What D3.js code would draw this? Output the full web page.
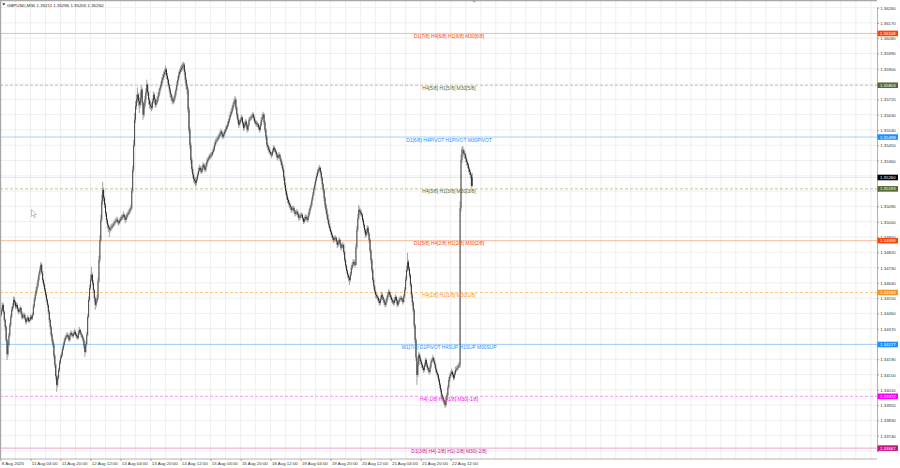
<!DOCTYPE html>
<html><head><meta charset="utf-8">
<script src="https://cdn.jsdelivr.net/npm/d3@7"></script>
<style>body{margin:0;background:#fff}svg{display:block;font-family:"Liberation Sans",Arial,sans-serif}</style>
</head><body><svg id="c" width="900" height="468"></svg>
<script>
// ---- data (prices in points: value = 1 + v/100000) ----
const symbol = "GBPUSD,M30";
const lastOHLC = ["1.35211", "1.35286", "1.35205", "1.35260"];
const firstOpen = 34440;
const closes = [
34451,34480,34510,34470,34422,34380,34304,34220,34275,34330,
34392,34440,34481,34500,34540,34525,34500,34510,34485,34469,
34480,34492,34460,34434,34445,34451,34430,34410,34425,34434,
34415,34422,34440,34430,34451,34500,34540,34570,34598,34620,
34657,34690,34716,34746,34700,34657,34630,34600,34569,34540,
34510,34470,34422,34380,34333,34300,34275,34210,34157,34090,
34039,34080,34127,34170,34200,34216,34250,34275,34300,34316,
34325,34333,34320,34304,34330,34345,34335,34328,34340,34351,
34335,34325,34316,34345,34363,34345,34333,34320,34304,34270,
34233,34280,34333,34440,34540,34610,34660,34687,34640,34598,
34550,34510,34530,34551,34650,34775,34890,35011,35120,35187,
35140,35099,35050,35010,34981,34965,34952,34960,34964,34975,
34981,34990,34999,35005,35011,35000,34993,35005,35015,35023,
35030,35040,35025,35011,35028,35040,35050,35058,35070,35081,
35180,35305,35450,35600,35680,35720,35747,35710,35688,35730,
35777,35700,35630,35680,35718,35760,35806,35760,35718,35690,
35680,35671,35710,35747,35720,35688,35700,35718,35740,35765,
35785,35806,35830,35848,35865,35880,35895,35860,35836,35805,
35777,35750,35730,35715,35706,35725,35747,35775,35806,35835,
35865,35880,35895,35906,35915,35924,35880,35836,35800,35777,
35660,35541,35450,35364,35310,35276,35250,35240,35229,35250,
35276,35300,35317,35305,35294,35315,35335,35320,35305,35330,
35352,35365,35376,35385,35390,35394,35410,35423,35450,35470,
35476,35482,35495,35506,35518,35530,35515,35500,35515,35530,
35541,35555,35571,35590,35612,35630,35647,35668,35688,35705,
35718,35670,35630,35600,35571,35585,35600,35612,35580,35553,
35570,35589,35565,35541,35570,35600,35606,35612,35620,35630,
35610,35589,35580,35575,35571,35555,35541,35570,35600,35615,
35630,35585,35541,35500,35453,35440,35423,35410,35400,35394,
35415,35435,35425,35412,35395,35376,35385,35394,35370,35352,
35330,35305,35260,35217,35180,35150,35128,35110,35099,35085,
35069,35075,35081,35062,35046,35052,35058,35040,35023,35030,
35035,35040,35020,34999,35015,35028,35020,35011,35035,35058,
35080,35099,35130,35158,35190,35217,35245,35270,35293,35305,
35317,35290,35258,35220,35187,35140,35099,35070,35040,35010,
34981,34960,34940,34922,34905,34893,34900,34905,34885,34863,
34878,34893,34870,34846,34855,34863,34820,34775,34740,34710,
34687,34670,34657,34690,34728,34745,34763,34755,34746,34850,
34952,35020,35069,35060,35050,35040,35010,34981,34950,34922,
34940,34964,34930,34893,34830,34775,34715,34657,34620,34590,
34569,34560,34551,34535,34522,34545,34569,34555,34540,34525,
34510,34530,34551,34570,34587,34570,34555,34540,34530,34522,
34540,34557,34535,34510,34525,34540,34545,34551,34540,34528,
34560,34598,34660,34716,34763,34725,34687,34630,34569,34525,
34481,34390,34304,34200,34098,34160,34216,34195,34175,34157,
34140,34127,34155,34186,34160,34139,34128,34116,34145,34174,
34186,34198,34178,34157,34130,34110,34098,34070,34039,34010,
33980,33965,33950,33935,33921,33950,33980,34025,34068,34090,
34105,34116,34098,34080,34105,34127,34133,34139,34148,34157,
35080,35364,35423,35420,35400,35394,35370,35350,35335,35310,
35293,35275,35211,35260];
const highs = [
34470,34495,34525,34520,34480,34430,34390,34310,34290,34345,
34405,34455,34500,34520,34560,34555,34535,34525,34520,34495,
34490,34505,34500,34470,34455,34465,34460,34440,34435,34450,
34440,34435,34455,34450,34465,34515,34555,34590,34615,34640,
34675,34705,34735,34763,34755,34710,34665,34640,34610,34580,
34550,34520,34480,34430,34390,34345,34310,34285,34220,34165,
34100,34095,34140,34185,34215,34235,34265,34290,34315,34330,
34340,34350,34345,34330,34345,34360,34355,34345,34355,34370,
34360,34345,34335,34360,34380,34370,34355,34340,34330,34310,
34280,34295,34350,34455,34560,34630,34690,34734,34700,34655,
34605,34560,34545,34570,34670,34800,34920,35040,35160,35234,
35200,35150,35110,35060,35020,34990,34975,34975,34985,34990,
34995,35005,35015,35020,35030,35025,35010,35020,35030,35040,
35045,35060,35050,35035,35045,35055,35065,35075,35085,35100,
35200,35330,35480,35640,35710,35750,35790,35760,35725,35760,
35800,35790,35710,35700,35740,35785,35836,35815,35770,35730,
35710,35700,35725,35765,35760,35730,35720,35735,35760,35785,
35800,35825,35850,35870,35885,35900,35918,35905,35875,35845,
35815,35790,35760,35745,35730,35740,35765,35790,35825,35855,
35885,35900,35915,35925,35935,35942,35935,35895,35850,35815,
35790,35675,35555,35465,35380,35325,35290,35265,35260,35265,
35290,35318,35335,35330,35320,35330,35350,35345,35330,35345,
35370,35380,35390,35400,35405,35410,35425,35440,35465,35485,
35492,35500,35510,35520,35535,35548,35540,35525,35530,35545,
35560,35570,35590,35605,35630,35650,35665,35685,35705,35725,
35741,35730,35680,35640,35610,35600,35615,35630,35620,35590,
35585,35605,35600,35575,35585,35615,35620,35628,35635,35647,
35640,35620,35600,35595,35590,35580,35565,35585,35615,35635,
35647,35640,35595,35550,35510,35465,35450,35435,35420,35410,
35430,35450,35445,35435,35420,35405,35400,35410,35400,35380,
35360,35340,35315,35270,35230,35190,35165,35140,35125,35110,
35095,35090,35095,35090,35070,35068,35075,35065,35050,35045,
35050,35055,35048,35025,35030,35045,35040,35030,35050,35075,
35095,35115,35145,35175,35205,35235,35260,35285,35310,35322,
35335,35325,35300,35265,35230,35195,35150,35110,35080,35050,
35020,34990,34970,34950,34930,34915,34915,34920,34912,34890,
34895,34910,34900,34878,34870,34880,34870,34830,34785,34750,
34720,34695,34680,34705,34745,34760,34780,34775,34770,34870,
34975,35045,35099,35085,35075,35065,35050,35020,34990,34960,
34955,34980,34975,34940,34900,34840,34785,34725,34670,34630,
34600,34580,34572,34560,34545,34560,34585,34580,34565,34550,
34535,34545,34565,34585,34605,34595,34580,34565,34550,34540,
34555,34572,34565,34545,34540,34555,34560,34565,34560,34550,
34575,34615,34680,34740,34816,34775,34735,34695,34640,34580,
34535,34490,34400,34315,34210,34175,34235,34225,34205,34185,
34165,34150,34170,34200,34195,34170,34150,34140,34160,34190,
34200,34216,34205,34185,34165,34140,34120,34105,34080,34050,
34020,33990,33975,33960,33945,33965,33995,34040,34085,34105,
34120,34135,34125,34110,34120,34145,34150,34155,34165,34175,
35120,35395,35441,35445,35430,35415,35405,35380,35360,35345,
35320,35305,35285,35286];
const lows = [
34425,34440,34470,34460,34410,34360,34290,34186,34205,34265,
34320,34380,34430,34470,34490,34510,34485,34490,34475,34455,
34460,34470,34450,34425,34425,34435,34420,34395,34400,34415,
34405,34405,34415,34420,34420,34445,34490,34530,34560,34585,
34610,34645,34680,34705,34690,34640,34615,34585,34555,34525,
34495,34455,34405,34365,34320,34285,34260,34195,34140,34070,
33998,34025,34070,34115,34160,34190,34205,34240,34265,34290,
34305,34315,34310,34292,34295,34320,34325,34315,34320,34332,
34325,34312,34305,34308,34335,34335,34320,34310,34290,34255,
34204,34225,34270,34325,34430,34530,34600,34650,34625,34580,
34530,34481,34495,34520,34540,34640,34760,34880,35000,35100,
35120,35080,35030,34990,34960,34940,34910,34935,34945,34955,
34965,34970,34980,34990,34995,34985,34975,34985,34995,35005,
35010,35020,35010,34990,35000,35015,35030,35040,35045,35060,
35070,35170,35290,35440,35580,35660,35700,35680,35640,35670,
35715,35680,35600,35615,35665,35700,35745,35740,35690,35665,
35660,35650,35660,35695,35700,35670,35675,35690,35705,35730,
35750,35775,35795,35815,35835,35850,35865,35840,35815,35790,
35760,35730,35710,35695,35690,35695,35715,35735,35765,35795,
35825,35850,35870,35880,35890,35895,35860,35815,35780,35750,
35640,35520,35430,35340,35290,35255,35230,35220,35205,35215,
35240,35265,35290,35290,35280,35285,35305,35305,35290,35295,
35320,35340,35355,35365,35370,35375,35385,35400,35415,35440,
35455,35465,35475,35485,35495,35505,35500,35485,35490,35505,
35520,35530,35545,35560,35580,35600,35620,35635,35655,35675,
35690,35655,35610,35580,35550,35560,35575,35590,35565,35535,
35540,35560,35550,35525,35530,35560,35590,35595,35600,35610,
35595,35575,35565,35560,35555,35540,35525,35530,35560,35590,
35605,35570,35525,35480,35435,35420,35405,35395,35385,35375,
35385,35405,35410,35400,35380,35360,35365,35375,35355,35335,
35315,35290,35240,35195,35160,35130,35110,35095,35080,35070,
35050,35058,35062,35045,35030,35035,35040,35025,35005,35010,
35018,35022,35005,34985,34990,35005,35005,34995,35000,35025,
35045,35070,35090,35120,35150,35180,35205,35235,35260,35280,
35295,35275,35240,35200,35170,35120,35080,35050,35020,34990,
34965,34945,34925,34905,34890,34875,34880,34888,34870,34845,
34850,34865,34855,34830,34835,34845,34805,34760,34725,34695,
34670,34650,34628,34645,34680,34715,34735,34740,34730,34740,
34840,34940,35010,35040,35035,35025,34995,34965,34935,34905,
34910,34930,34915,34875,34815,34755,34700,34640,34600,34575,
34550,34545,34535,34520,34505,34510,34535,34540,34525,34510,
34495,34500,34520,34540,34560,34555,34540,34525,34515,34505,
34510,34530,34520,34495,34500,34515,34530,34535,34525,34512,
34520,34550,34590,34650,34705,34710,34670,34615,34550,34505,
34465,34370,34285,34180,34039,34085,34150,34180,34160,34140,
34125,34110,34115,34145,34145,34125,34112,34100,34105,34135,
34165,34178,34165,34140,34115,34095,34080,34055,34020,33995,
33962,33948,33932,33918,33903,33910,33940,33970,34015,34055,
34080,34095,34085,34065,34070,34095,34115,34120,34128,34140,
34140,35060,35345,35395,35380,35370,35350,35330,35315,35290,
35275,35255,35200,35205];

const priceTicks = [1.36260,1.36170,1.36080,1.35990,1.35900,1.35810,1.35720,1.35630,1.35540,1.35450,
  1.35360,1.35270,1.35180,1.35090,1.35000,1.34910,1.34820,1.34730,1.34640,1.34550,
  1.34460,1.34370,1.34280,1.34190,1.34100,1.34010,1.33920,1.33830,1.33740,1.33650];
const timeTickIndex = [0,32,64,96,128,160,192,224,256,288,320,352,384,416,448,480];
const timeTickLabels = ["8 Aug 2025","11 Aug 04:00","11 Aug 20:00","12 Aug 12:00","13 Aug 04:00",
  "13 Aug 20:00","14 Aug 12:00","15 Aug 04:00","15 Aug 20:00","18 Aug 12:00","19 Aug 04:00",
  "19 Aug 20:00","20 Aug 12:00","21 Aug 04:00","21 Aug 20:00","22 Aug 12:00"];

const levelPrices = [1.36108,1.35803,1.35498,1.35193,1.34888,1.34583,1.34277,1.33972,1.33667];
const levelTexts = ["D1[7/8] H4[6/8] H1[6/8] M30[6/8]","H4[5/8] H1[5/8] M30[5/8]",
  "D1[6/8] H4PIVOT H1PIVOT M30PIVOT","H4[3/8] H1[3/8] M30[3/8]",
  "D1[5/8] H4[2/8] H1[2/8] M30[2/8]","H4[1/8] H1[1/8] M30[1/8]",
  "W1[7/8] D1PIVOT H4SUP H1SUP M30SUP","H4[-1/8] H1[-1/8] M30[-1/8]",
  "D1[3/8] H4[-2/8] H1[-2/8] M30[-2/8]"];
const levelColors = ["#FF4500","#556B2F","#1E90FF","#556B2F","#FF4500","#F7931E","#1E90FF","#FF00FF","#C71585"];
const levelLineColors = ["#fbb89c","#c9c0a2","#a3d2fb","#c9c0a2","#fbb89c","#fcc87a","#a3d2fb","#f79af7","#eea4cc"];
const levelDashed = [false,true,false,true,false,true,false,true,false];
const currentPrice = 1.35260;

// ---- chart ----
const W = 900, H = 468, plotR = 877, plotB = 459;
const svg = d3.select("#c");
const P = v => 1 + v / 100000;
const x = d3.scaleLinear().domain([-0.5, 934.5]).range([0, plotR]);
const y = d3.scaleLinear().domain([1.33650, 1.36260]).range([451.0, 7.6]);

svg.append("rect").attr("width", W).attr("height", H).attr("fill", "#fff");
svg.append("defs").append("clipPath").attr("id", "clip")
  .append("rect").attr("x", 0).attr("y", 0).attr("width", plotR).attr("height", plotB);

const grid = svg.append("g").attr("stroke", "#ebebeb").attr("stroke-width", 0.8);
grid.selectAll("line.h").data(priceTicks).join("line")
  .attr("x1", 0).attr("x2", plotR).attr("y1", d => y(d)).attr("y2", d => y(d));
grid.selectAll("line.v").data(d3.range(0, 935, 16)).join("line")
  .attr("y1", 0).attr("y2", plotB).attr("x1", d => x(d)).attr("x2", d => x(d));

// levels
const lv = levelPrices.map((p, k) => ({p, t: levelTexts[k], c: levelColors[k], lc: levelLineColors[k], dash: levelDashed[k]}));
svg.append("g").selectAll("line").data(lv).join("line")
  .attr("x1", 0).attr("x2", plotR).attr("y1", d => y(d.p)).attr("y2", d => y(d.p))
  .attr("stroke", d => d.lc).attr("stroke-width", 1)
  .attr("stroke-dasharray", d => d.dash ? "3,2" : null);
// current price line
svg.append("line").attr("x1", 0).attr("x2", plotR).attr("y1", y(currentPrice)).attr("y2", y(currentPrice))
  .attr("stroke", "#e2e2e2").attr("stroke-width", 0.8);

// candles
const bars = closes.map((c, i) => ({i, o: i ? closes[i - 1] : firstOpen, h: highs[i], l: lows[i], c}));
const cg = svg.append("g").attr("clip-path", "url(#clip)");
cg.selectAll("line").data(bars).join("line")
  .attr("x1", d => x(d.i)).attr("x2", d => x(d.i))
  .attr("y1", d => y(P(d.h))).attr("y2", d => y(P(d.l)))
  .attr("stroke", "#7a7a7a").attr("stroke-width", 0.7);
cg.selectAll("rect").data(bars).join("rect")
  .attr("x", d => x(d.i) - 0.4).attr("width", 0.8)
  .attr("y", d => y(P(Math.max(d.o, d.c))))
  .attr("height", d => Math.max(0.4, Math.abs(y(P(d.o)) - y(P(d.c)))))
  .attr("fill", d => d.c >= d.o ? "#3a3a3a" : "#111");

// level texts in chart
svg.append("g").selectAll("text").data(lv).join("text")
  .attr("x", 449).attr("y", d => y(d.p) + 4.6).attr("text-anchor", "middle")
  .attr("font-size", 4.9).attr("fill", d => d.c).text(d => d.t);

// borders
svg.append("line").attr("x1", 0).attr("x2", plotR).attr("y1", 0.6).attr("y2", 0.6).attr("stroke", "#a8a8a8").attr("stroke-width", 1.3);
svg.append("line").attr("x1", 0.6).attr("x2", 0.6).attr("y1", 0).attr("y2", plotB).attr("stroke", "#a8a8a8").attr("stroke-width", 1.2);
svg.append("line").attr("x1", 0).attr("x2", plotR).attr("y1", plotB).attr("y2", plotB).attr("stroke", "#a0a0a0").attr("stroke-width", 0.8);

// price labels of levels + current price
const tags = lv.map(d => ({p: d.p, c: d.c})).concat([{p: currentPrice, c: "#000"}]);
// price axis (tick labels hidden where a price tag covers them)
const covered = t => tags.some(g => Math.abs(y(g.p) - y(t)) < 3.6);
const yAxis = d3.axisRight(y).tickValues(priceTicks).tickSize(2).tickPadding(1.2)
  .tickFormat(d => covered(d) ? "" : d3.format(".5f")(d));
svg.append("g").attr("transform", `translate(${plotR},0)`).call(yAxis)
  .call(g => {
    g.attr("font-family", null).attr("font-size", null);
    g.select(".domain").attr("stroke", "#a0a0a0").attr("stroke-width", 0.8);
    g.selectAll(".tick line").attr("stroke", "#a0a0a0");
    g.selectAll(".tick text").attr("font-size", 4.3).attr("fill", "#333").attr("dy", "0.35em");
  });

const tg = svg.append("g").selectAll("g").data(tags).join("g")
  .attr("transform", d => `translate(${plotR + 0.5},${y(d.p)})`);
tg.append("rect").attr("x", 0).attr("y", -2.8).attr("width", 20.5).attr("height", 5.6).attr("fill", d => d.c);
tg.append("text").attr("x", 10.3).attr("y", 1.6).attr("text-anchor", "middle")
  .attr("font-size", 4.3).attr("fill", "#fff").text(d => d.p.toFixed(5));

// time axis
const xAxis = d3.axisBottom(x).tickValues(timeTickIndex).tickSize(2).tickFormat((d, k) => timeTickLabels[k]);
svg.append("g").attr("transform", `translate(0,${plotB})`).call(xAxis)
  .call(g => {
    g.attr("font-family", null).attr("font-size", null);
    g.select(".domain").remove();
    g.selectAll(".tick line").attr("stroke", "#a0a0a0");
    g.selectAll(".tick text").attr("font-size", 4.4).attr("fill", "#333")
      .attr("text-anchor", "start").attr("x", 0.8).attr("y", 3).attr("dy", "0.75em");
  });

// header
svg.append("path").attr("d", "M2.2,3.2 L5.4,3.2 L3.8,5.6 Z").attr("fill", "#333");
svg.append("text").attr("x", 7).attr("y", 6.6).attr("font-size", 4.4).attr("fill", "#222")
  .text(symbol + "  " + lastOHLC.join(" "));

// chart shift marker
svg.append("path").attr("d", `M${x(505)-1.8},0.5 L${x(505)+1.8},0.5 L${x(505)},2.8 Z`).attr("fill", "#999");

// mouse cursor
svg.append("path").attr("d", "M31.5,209.5 L31.5,216.5 L33.1,215 L34.4,217.8 L35.4,217.3 L34.1,214.6 L36.3,214.5 Z")
  .attr("fill", "#fff").attr("stroke", "#8a8a8a").attr("stroke-width", 0.5);
</script></body></html>
